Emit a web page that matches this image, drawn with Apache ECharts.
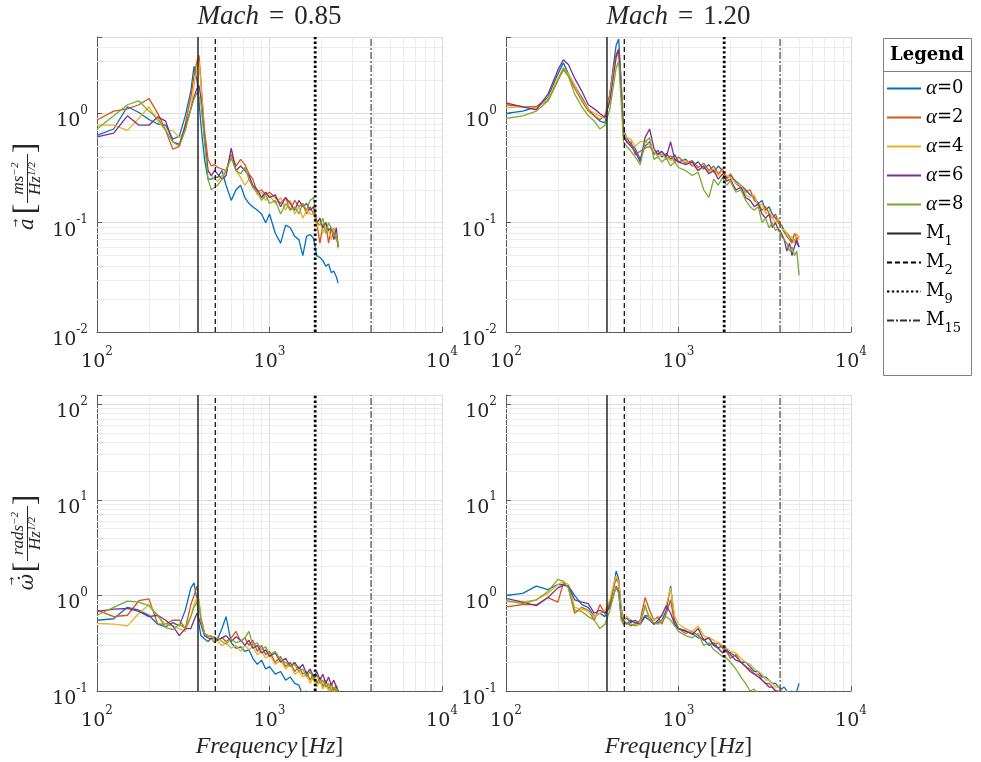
<!DOCTYPE html>
<html><head><meta charset="utf-8">
<script src="https://cdn.jsdelivr.net/npm/echarts@6/dist/echarts.min.js"></script>
<style>html,body{margin:0;padding:0;background:#fff}#c{width:981px;height:762px}</style>
</head><body><div id="c"></div>
<script>
// ---------- DATA ----------
const freqM085 = [100,125,150,175,200,225,250,275,300,325,350,365,380,390,400,420,440,460,480,500,530,560,600,640,680,720,760,800,850,900,950,1000,1080,1160,1240,1320,1400,1480,1560,1640,1720,1800,1880,1960,2040,2120,2200,2280,2360,2440,2500];
const freqM120 = [100,125,150,175,200,215,230,250,275,300,325,350,375,400,420,435,450,465,480,500,530,560,600,640,680,720,760,800,850,900,950,1000,1100,1200,1300,1400,1500,1600,1700,1800,1900,2000,2150,2300,2450,2600,2750,2900,3050,3200,3350,3500,3650,3800,3950,4100,4250,4400,4550,4700,4850,5000];

const seriesNames = ['α=0','α=2','α=4','α=6','α=8'];
const modeNames = ['M1','M2','M9','M15'];
const modeFreqs = [385, 485, 1840, 3880];

// acceleration PSD, Mach 0.85
const a085_0 = [0.63,0.72,1.15,1.02,0.88,0.80,0.78,0.58,0.62,0.95,1.6, 2.7,2.0,1.3,0.8, 0.38,0.25,0.25,0.26,0.26, 0.30,0.22,0.16,0.20,0.22,0.17,0.15,0.14,0.13,0.12,0.10,0.12, 0.08,0.065,0.095,0.09,0.075,0.07,0.05,0.075,0.078,0.072,0.05,0.048,0.045,0.04,0.042,0.035,0.036,0.032, 0.028];
const a085_2 = [0.87,1.05,1.1,1.2,1.37,1.0,0.7,0.47,0.5,0.8,1.4, 2.2,3.0,3.4,2.0, 0.7,0.38,0.33,0.34,0.32, 0.31,0.30,0.42,0.33,0.38,0.34,0.28,0.25,0.19,0.2,0.18,0.19, 0.17,0.15,0.17,0.13,0.16,0.14,0.15,0.12,0.14,0.12,0.1,0.065,0.095,0.1,0.065,0.09,0.08,0.07, 0.065];
const a085_4 = [0.78,0.78,0.7,0.9,1.15,0.85,0.7,0.7,0.6,0.7,1.1, 1.8,2.6,3.0,1.9, 0.6,0.3,0.27,0.25,0.24, 0.27,0.3,0.4,0.3,0.26,0.22,0.25,0.22,0.18,0.19,0.16,0.18, 0.15,0.17,0.13,0.16,0.12,0.14,0.11,0.13,0.12,0.12,0.09,0.11,0.08,0.1,0.085,0.07,0.09,0.075, 0.058];
const a085_6 = [0.61,0.66,0.95,0.78,0.78,0.93,0.85,0.55,0.52,0.75,1.1, 1.4,1.7,1.8,1.4, 0.6,0.3,0.27,0.3,0.28, 0.25,0.27,0.48,0.3,0.33,0.3,0.27,0.22,0.2,0.17,0.19,0.17, 0.18,0.14,0.17,0.15,0.13,0.16,0.14,0.15,0.13,0.14,0.1,0.11,0.09,0.1,0.085,0.09,0.07,0.09, 0.06];
const a085_8 = [0.72,0.95,1.2,1.3,1.05,0.9,0.7,0.55,0.5,0.7,1.1, 1.35,1.55,1.6,1.3, 0.55,0.25,0.2,0.21,0.22, 0.25,0.3,0.39,0.3,0.28,0.32,0.25,0.21,0.19,0.16,0.18,0.15, 0.16,0.12,0.15,0.13,0.14,0.12,0.15,0.13,0.16,0.17,0.1,0.095,0.11,0.08,0.1,0.09,0.075,0.08, 0.062];

// acceleration PSD, Mach 1.20
const a120_0 = [1.0,1.05,1.15,1.4,2.3,2.9,2.3,1.8,1.4,1.1,0.95,0.85,0.82,1.5,2.8,4.2,4.8,2.0,0.7,0.6, 0.52,0.48,0.38,0.5,0.55,0.42,0.46,0.4,0.43,0.38,0.42,0.36, 0.38,0.33,0.36,0.31,0.34,0.29,0.33,0.3,0.26,0.27, 0.24,0.22,0.2,0.18,0.17,0.15,0.16,0.13,0.14,0.12,0.11,0.1,0.095,0.085,0.08,0.075,0.068,0.07,0.065,0.06];
const a120_2 = [1.2,1.15,1.15,1.3,2.0,2.5,2.2,1.7,1.3,1.05,0.95,0.88,0.95,1.5,2.6,3.5,3.9,1.8,0.7,0.55, 0.55,0.42,0.45,0.48,0.5,0.44,0.42,0.45,0.38,0.41,0.36,0.4, 0.35,0.37,0.32,0.35,0.3,0.33,0.28,0.31,0.25,0.28, 0.23,0.21,0.19,0.2,0.16,0.15,0.13,0.14,0.12,0.11,0.12,0.1,0.09,0.082,0.075,0.07,0.065,0.08,0.07,0.075];
const a120_4 = [1.13,1.15,1.12,1.35,2.1,2.6,2.3,1.8,1.35,1.1,1.0,0.95,0.9,1.4,2.4,3.2,3.5,1.7,0.65,0.6, 0.58,0.5,0.55,0.56,0.52,0.45,0.4,0.42,0.4,0.37,0.39,0.35, 0.37,0.34,0.3,0.33,0.29,0.31,0.27,0.3,0.27,0.26, 0.23,0.22,0.18,0.17,0.18,0.14,0.15,0.12,0.13,0.11,0.1,0.11,0.09,0.085,0.08,0.072,0.075,0.065,0.08,0.07];
const a120_6 = [1.25,1.15,1.08,1.5,2.5,3.1,2.8,2.1,1.6,1.2,1.1,1.0,0.92,1.3,2.2,3.3,3.8,1.6,0.62,0.55, 0.5,0.45,0.36,0.6,0.72,0.48,0.42,0.45,0.4,0.55,0.38,0.36, 0.34,0.36,0.3,0.33,0.28,0.3,0.25,0.28,0.24,0.25, 0.2,0.21,0.17,0.16,0.14,0.15,0.12,0.11,0.12,0.09,0.1,0.085,0.08,0.07,0.055,0.065,0.05,0.06,0.07,0.06];
const a120_8 = [0.9,0.95,1.05,1.3,2.0,2.6,2.2,1.5,1.15,0.95,0.85,0.72,0.78,1.1,1.8,2.6,3.0,1.3,0.55,0.5, 0.45,0.4,0.34,0.55,0.6,0.38,0.4,0.36,0.39,0.33,0.36,0.32, 0.3,0.27,0.29,0.2,0.17,0.25,0.22,0.26,0.22,0.24, 0.19,0.2,0.16,0.14,0.13,0.14,0.1,0.11,0.09,0.1,0.085,0.09,0.075,0.07,0.065,0.055,0.06,0.05,0.055,0.033];

// angular acceleration PSD, Mach 0.85
const w085_0 = [0.55,0.57,0.75,0.7,0.62,0.5,0.47,0.52,0.48,0.7,1.2, 1.35,0.9,0.5,0.38, 0.35,0.33,0.36,0.32,0.35, 0.45,0.6,0.32,0.28,0.29,0.26,0.27,0.22,0.19,0.21,0.17,0.18, 0.15,0.16,0.13,0.14,0.12,0.115,0.09,0.1,0.085,0.09,0.08,0.075,0.07,0.072,0.065,0.06,0.062,0.058, 0.055];
const w085_2 = [0.7,0.6,0.62,0.88,0.92,0.5,0.5,0.55,0.55,0.45,0.8, 1.0,1.25,1.2,0.6, 0.4,0.38,0.37,0.36,0.34, 0.36,0.33,0.36,0.42,0.33,0.36,0.3,0.34,0.26,0.3,0.24,0.26, 0.2,0.23,0.18,0.2,0.16,0.18,0.15,0.16,0.13,0.15,0.12,0.14,0.11,0.13,0.105,0.12,0.1,0.115, 0.1];
const w085_4 = [0.51,0.5,0.48,0.65,0.8,0.6,0.5,0.48,0.45,0.42,0.6, 0.8,0.95,0.9,0.55, 0.4,0.38,0.36,0.33,0.33, 0.3,0.32,0.28,0.3,0.26,0.3,0.27,0.29,0.24,0.26,0.22,0.24, 0.19,0.21,0.17,0.19,0.15,0.16,0.14,0.15,0.12,0.14,0.11,0.13,0.105,0.12,0.1,0.11,0.095,0.105, 0.1];
const w085_6 = [0.68,0.72,0.73,0.68,0.6,0.62,0.55,0.48,0.38,0.45,0.45, 0.55,0.65,0.62,0.5, 0.38,0.36,0.35,0.37,0.34, 0.36,0.38,0.33,0.37,0.34,0.3,0.34,0.28,0.3,0.25,0.27,0.23, 0.25,0.2,0.22,0.18,0.2,0.17,0.19,0.15,0.17,0.14,0.16,0.13,0.15,0.12,0.14,0.115,0.13,0.11, 0.1];
const w085_8 = [0.62,0.75,0.87,0.85,0.78,0.62,0.46,0.44,0.5,0.45,0.6, 0.75,0.85,0.8,0.55, 0.4,0.37,0.38,0.35,0.36, 0.33,0.31,0.35,0.32,0.33,0.36,0.42,0.3,0.32,0.27,0.29,0.24, 0.26,0.21,0.2,0.18,0.19,0.16,0.17,0.14,0.16,0.13,0.15,0.12,0.13,0.11,0.12,0.1,0.11,0.1, 0.105];

// angular acceleration PSD, Mach 1.20
const w120_0 = [1.0,1.05,1.25,1.15,1.3,1.3,1.25,1.0,0.8,0.75,0.6,0.65,0.6,0.8,1.2,1.8,1.5,0.75,0.55,0.58, 0.52,0.55,0.5,0.62,0.6,0.5,0.52,0.55,0.7,1.25,0.55,0.45, 0.42,0.4,0.36,0.35,0.3,0.32,0.28,0.3,0.26,0.25, 0.23,0.2,0.2,0.18,0.16,0.16,0.14,0.14,0.13,0.12,0.12,0.11,0.105,0.11,0.1,0.095,0.1,0.09,0.1,0.12];
const w120_2 = [0.76,0.8,0.8,0.95,0.85,1.35,1.2,0.65,0.75,0.7,0.55,0.8,0.65,0.85,1.2,1.5,1.35,0.6,0.5,0.52, 0.48,0.5,0.55,0.95,0.7,0.55,0.6,0.5,0.65,0.9,0.5,0.45, 0.4,0.42,0.38,0.34,0.36,0.3,0.32,0.28,0.26,0.22, 0.24,0.2,0.18,0.17,0.15,0.15,0.13,0.12,0.12,0.11,0.1,0.1,0.095,0.09,0.1,0.09,0.085,0.09,0.08,0.085];
const w120_4 = [0.86,0.85,0.9,1.05,1.3,1.4,1.3,0.75,0.72,0.68,0.6,0.65,0.7,0.9,1.3,1.6,1.4,0.7,0.55,0.6, 0.55,0.5,0.52,0.75,0.6,0.55,0.58,0.6,0.8,1.2,0.6,0.5, 0.45,0.42,0.48,0.38,0.36,0.34,0.32,0.3,0.28,0.26, 0.25,0.22,0.2,0.19,0.17,0.16,0.15,0.13,0.13,0.12,0.11,0.11,0.1,0.095,0.1,0.09,0.095,0.085,0.09,0.08];
const w120_6 = [0.93,0.85,0.78,0.95,1.2,1.28,1.25,0.9,0.85,0.82,0.65,0.7,0.65,0.75,1.0,1.25,1.1,0.6,0.55,0.5, 0.55,0.52,0.5,0.6,0.55,0.5,0.55,0.62,0.78,0.65,0.5,0.45, 0.43,0.39,0.45,0.34,0.36,0.3,0.28,0.25,0.27,0.24, 0.21,0.2,0.18,0.16,0.15,0.14,0.13,0.12,0.11,0.11,0.1,0.095,0.1,0.09,0.085,0.09,0.08,0.085,0.08,0.075];
const w120_8 = [0.88,0.82,0.9,1.1,1.47,1.4,1.2,0.7,0.68,0.6,0.55,0.45,0.5,0.7,1.0,1.2,1.05,0.55,0.5,0.52, 0.5,0.48,0.5,0.8,0.55,0.52,0.5,0.55,0.6,0.55,0.48,0.42, 0.38,0.36,0.4,0.3,0.32,0.27,0.25,0.23,0.22,0.2, 0.17,0.14,0.12,0.1,0.105,0.09,0.095,0.085,0.09,0.08,0.085,0.075,0.07,0.072,0.065,0.07,0.06,0.065,0.06,0.055];

const minorXTicks = [200,300,400,500,600,700,800,900,2000,3000,4000,5000,6000,7000,8000,9000];
const minorYTop = [0.02,0.03,0.04,0.05,0.06,0.07,0.08,0.09,0.2,0.3,0.4,0.5,0.6,0.7,0.8,0.9,2,3,4];
const minorYBottom = [0.2,0.3,0.4,0.5,0.6,0.7,0.8,0.9,2,3,4,5,6,7,8,9,20,30,40,50,60,70,80,90];

// ---------- BUILD ----------
const COLORS = ['#0072BD','#D95319','#EDB120','#7E2F8E','#77AC30'];
const MODE_STYLES = [
  {color:'#262626', width:1.5, type:'solid'},
  {color:'#000000', width:1.2, type:[5,3]},
  {color:'#000000', width:2.8, type:[2.4,2.4]},
  {color:'#333333', width:1.1, type:[7,2,2,2]}
];
const SERIF = 'Liberation Serif';
const TICKFONT = 'DejaVu Serif';
const INK = '#262626';

const panels = [
  {grid:{left:97, top:37, width:345, height:295}, freq:freqM085, vals:[a085_0,a085_2,a085_4,a085_6,a085_8], ymin:0.01, ymax:5, minorY:minorYTop, title:'0.85', xName:false},
  {grid:{left:506, top:37, width:345, height:295}, freq:freqM120, vals:[a120_0,a120_2,a120_4,a120_6,a120_8], ymin:0.01, ymax:5, minorY:minorYTop, title:'1.20', xName:false},
  {grid:{left:97, top:395, width:345, height:296}, freq:freqM085, vals:[w085_0,w085_2,w085_4,w085_6,w085_8], ymin:0.1, ymax:125, minorY:minorYBottom, title:null, xName:true},
  {grid:{left:506, top:395, width:345, height:296}, freq:freqM120, vals:[w120_0,w120_2,w120_4,w120_6,w120_8], ymin:0.1, ymax:125, minorY:minorYBottom, title:null, xName:true}
];

const tickRich = {
  b:{fontFamily:TICKFONT, fontSize:19, color:INK, padding:[16,0,0,0]},
  s:{fontFamily:TICKFONT, fontSize:12, color:INK, padding:[0,0,5,0]}
};
function decadeLabel(v){
  const l = Math.log10(v), e = Math.round(l);
  if (Math.abs(l - e) > 1e-6) return '';
  return '{b|10}{s|' + e + '}';
}
const nameRich = {
  x:{fontFamily:SERIF, fontStyle:'italic', fontSize:24, color:INK},
  xb:{fontFamily:SERIF, fontSize:24, color:INK}
};

const grids = [], xAxes = [], yAxes = [], series = [], graphics = [];
panels.forEach((p, gi) => {
  grids.push(p.grid);
  const axisCommon = {
    type:'log', logBase:10, gridIndex:gi,
    axisLine:{show:true, onZero:false, lineStyle:{color:'#5a5a5a', width:1}},
    axisTick:{show:true, inside:true, length:5, lineStyle:{color:'#5a5a5a'}},
    splitLine:{show:true, lineStyle:{color:'#dadada', width:1}},
    axisLabel:{formatter:decadeLabel, rich:tickRich, showMinLabel:true, showMaxLabel:true}
  };
  const xa = Object.assign({}, axisCommon, {min:100, max:10000, position:'bottom'});
  xa.axisLabel = Object.assign({}, axisCommon.axisLabel, {margin:5});
  if (p.xName) {
    xa.name = '{x|Frequency} {xb|[}{x|Hz}{xb|]}';
    xa.nameLocation = 'middle'; xa.nameGap = 44;
    xa.nameTextStyle = {rich:nameRich};
  }
  xAxes.push(xa);
  const ya = Object.assign({}, axisCommon, {min:p.ymin, max:p.ymax, position:'left'});
  ya.axisLabel = Object.assign({}, axisCommon.axisLabel, {margin:9});
  yAxes.push(ya);

  // minor grid lines (kept beneath the data: markers default to z 5)
  series.push({
    type:'line', name:'_grid'+gi, xAxisIndex:gi, yAxisIndex:gi, data:[[100, p.ymin]],
    symbol:'none', silent:true, z:1, lineStyle:{opacity:0},
    markLine:{silent:true, z:1, symbol:['none','none'], label:{show:false}, animation:false,
      lineStyle:{color:'#ececec', width:1, type:'solid'},
      emphasis:{disabled:true},
      data: minorXTicks.map(v => ({xAxis:v})).concat(p.minorY.map(v => ({yAxis:v})))
    }
  });
  // spectra
  p.vals.forEach((vals, k) => {
    series.push({
      type:'line', name:seriesNames[k], xAxisIndex:gi, yAxisIndex:gi,
      data: p.freq.map((f, i) => [f, vals[i]]),
      symbol:'none', z:6, clip:true,
      lineStyle:{color:COLORS[k], width:1.3, type:'solid'}, itemStyle:{color:COLORS[k]}
    });
  });
  // mode lines
  modeNames.forEach((m, k) => {
    const st = MODE_STYLES[k];
    series.push({
      type:'line', name:m, xAxisIndex:gi, yAxisIndex:gi,
      data:[[modeFreqs[k], p.ymin],[modeFreqs[k], p.ymax]],
      symbol:'none', z:7, clip:true,
      lineStyle:{color:st.color, width:st.width, type:st.type}, itemStyle:{color:st.color}
    });
  });
  if (p.title) {
    graphics.push({
      type:'text', x:p.grid.left + p.grid.width/2, y:3, silent:true,
      style:{
        text:'{i|Mach}{e|=}{n|' + p.title + '}', align:'center', verticalAlign:'top',
        rich:{
          i:{fontFamily:SERIF, fontStyle:'italic', fontSize:27, fill:INK},
          e:{fontFamily:SERIF, fontSize:27, fill:INK, padding:[0,10,0,10]},
          n:{fontFamily:SERIF, fontSize:27, fill:INK}
        }
      }
    });
  }
});

// y-axis labels: vector symbol with a bracketed fraction, drawn rotated
function yLabel(x, y, sym, num, fracStart, fracEnd){
  const fc = (fracStart + fracEnd) / 2;
  const frRich = {
    i:{fontFamily:SERIF, fontStyle:'italic', fontSize:17, fill:INK},
    s:{fontFamily:SERIF, fontStyle:'italic', fontSize:11, fill:INK, padding:[0,0,7,0]}
  };
  return {
    type:'group', x:x, y:y, rotation:Math.PI/2, silent:true,
    children:[
      {type:'text', x:10, y:1, style:{text:sym, fontFamily:TICKFONT, fontStyle:'italic', fontSize:20, fill:INK, align:'center', verticalAlign:'middle'}},
      {type:'text', x:11, y:(sym.length > 1 ? -15 : -11), style:{text:'→', fontFamily:'DejaVu Sans', fontSize:10, fill:INK, align:'center', verticalAlign:'middle'}},
      {type:'text', x:fracStart - 6, y:0, style:{text:'[', fontFamily:SERIF, fontSize:32, fill:INK, align:'center', verticalAlign:'middle'}},
      {type:'text', x:fc, y:-8, style:{text:'{i|' + num + '}{s|−2}', rich:frRich, align:'center', verticalAlign:'middle'}},
      {type:'line', shape:{x1:fracStart, y1:0.5, x2:fracEnd, y2:0.5}, style:{stroke:INK, lineWidth:1}},
      {type:'text', x:fc, y:9, style:{text:'{i|Hz}{s|1/2}', rich:frRich, align:'center', verticalAlign:'middle'}},
      {type:'text', x:fracEnd + 6, y:0, style:{text:']', fontFamily:SERIF, fontSize:32, fill:INK, align:'center', verticalAlign:'middle'}}
    ]
  };
}
graphics.push(yLabel(27, 234, 'a', 'ms', 31, 80));
graphics.push(yLabel(27, 592, 'ω\u0307', 'rads', 31, 86));

// legend box
graphics.push({type:'rect', silent:true, shape:{x:883.5, y:38.5, width:88, height:337}, style:{fill:'#ffffff', stroke:'#808080', lineWidth:1}, z:-1});
graphics.push({type:'line', silent:true, shape:{x1:883.5, y1:71.5, x2:971.5, y2:71.5}, style:{stroke:'#808080', lineWidth:1}});
graphics.push({type:'text', silent:true, x:927, y:55, style:{text:'Legend', align:'center', verticalAlign:'middle', fontFamily:TICKFONT, fontWeight:'bold', fontSize:18, fill:'#000'}});

function legendFmt(name){
  if (name.charAt(0) === 'α') return '{a|α}{n|' + name.slice(1) + '}';
  return '{n|M}{s|' + name.slice(1) + '}';
}

const option = {
  animation:false,
  backgroundColor:'#ffffff',
  grid:grids, xAxis:xAxes, yAxis:yAxes, series:series, graphic:graphics,
  legend:{
    orient:'vertical', left:886, top:74, itemGap:0, itemWidth:34, itemHeight:14, padding:0,
    data: seriesNames.concat(modeNames), selectedMode:false, formatter:legendFmt,
    itemStyle:{opacity:0, borderWidth:0},
    textStyle:{color:'#000', fontFamily:TICKFONT, fontSize:18, lineHeight:29,
      rich:{
        a:{fontFamily:SERIF, fontStyle:'italic', fontSize:21, lineHeight:29, color:'#000'},
        n:{fontFamily:TICKFONT, fontSize:18, lineHeight:29, color:'#000'},
        s:{fontFamily:TICKFONT, fontSize:13, lineHeight:13, padding:[16,0,0,0], color:'#000'}
      }
    }
  }
};
const chart = echarts.init(document.getElementById('c'));
chart.setOption(option);
</script></body></html>
